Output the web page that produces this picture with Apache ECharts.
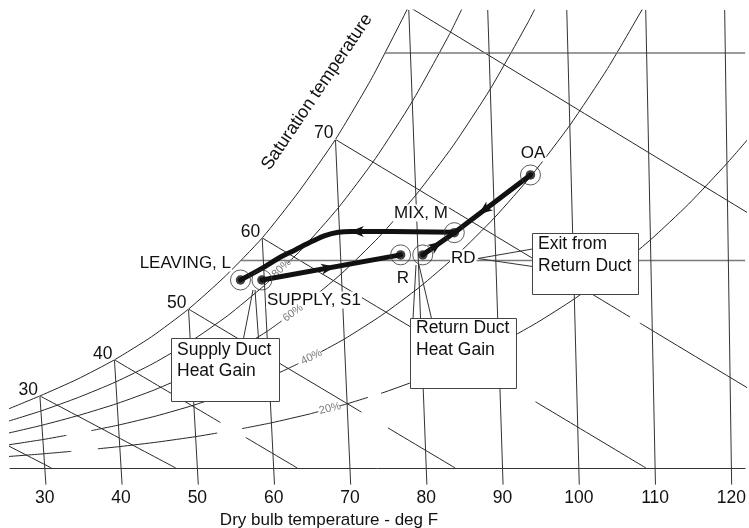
<!DOCTYPE html>
<html><head><meta charset="utf-8">
<script src="https://cdn.jsdelivr.net/npm/echarts@6/dist/echarts.min.js"></script>
<style>html,body{margin:0;padding:0;background:#fff}#c{width:749px;height:528px}</style>
</head><body><div id="c"></div>
<script>
// ---- Data (x = dry bulb position on the bottom scale, deg F; y = humidity ratio, lb/1000 lb) ----
const dryBulbTicks = [30, 40, 50, 60, 70, 80, 90, 100, 110, 120];
const dryBulbTopX  = [29.36, 39.13, 48.84, 58.50, 68.10, 77.71, 88.06, 98.42, 108.77, 119.12];
const dryBulbTopW  = [3.473, 5.213, 7.658, 11.087, 15.832, 22.07, 22.07, 22.07, 22.07, 22.07];

const saturationCurve = [[24.48,2.731],[29.36,3.473],[34.25,4.275],[39.13,5.213],[43.99,6.324],[48.84,7.658],
  [53.67,9.248],[58.50,11.087],[63.30,13.319],[68.10,15.832],[72.90,18.812],[77.69,22.234]];
const satLabelTemps = [30, 40, 50, 60, 70];

const rh80 = [[24.58,2.183],[29.50,2.748],[34.40,3.401],[39.30,4.148],[44.20,5.035],[49.08,6.089],[53.95,7.335],
  [58.81,8.801],[59.8,9.154],null,[61.8,9.867],[63.66,10.53],[68.50,12.550],[73.33,14.909],[78.17,17.665],[83.00,20.872],[84.94,22.32]];
const rh60 = [[24.69,1.636],[29.62,2.059],[34.55,2.547],[39.48,3.106],[44.40,3.769],[49.31,4.556],[54.21,5.485],
  [59.11,6.578],[61.03,7.082],null,[63.5,7.730],[64.00,7.861],[68.88,9.365],[73.76,11.115],[78.64,13.155],[83.51,15.524],
  [88.40,18.267],[93.29,21.44],[94.27,22.14]];
const rh40 = [[24.79,1.090],[29.75,1.371],[32.83,1.573],null,[36.09,1.800],[39.65,2.067],[44.60,2.507],[49.54,3.030],
  [54.48,3.646],[59.41,4.370],[63.25,5.032],null,[66.25,5.606],[69.26,6.212],[74.18,7.366],[79.10,8.709],[84.02,10.263],
  [88.94,12.060],[93.87,14.13],[98.82,16.515],[103.77,19.252],[108.75,22.38]];
const rh20 = [[24.90,0.544],[29.87,0.685],[33.48,0.802],null,[36.95,0.925],[39.83,1.032],[44.80,1.251],[49.77,1.511],
  [52.60,1.686],null,[55.85,1.898],[59.70,2.177],[64.67,2.599],[65.85,2.716],null,[68.68,2.997],[69.63,3.091],[72.37,3.406],
  null,[74.07,3.601],[74.59,3.661],[79.55,4.324],[84.51,5.090],[89.48,5.972],[94.44,6.987],[99.42,8.150],[104.40,9.479],
  [109.39,10.995],[114.39,12.719],[119.42,14.683],[122.44,15.96]];

const wetBulb20 = [[19.57,2.139],[30.87,0]];
const wetBulb30 = [[29.36,3.473],[47.17,0]];
const wetBulb40 = [[39.13,5.213],[53.04,2.188],null,[56.34,1.470],[63.1,0]];
const wetBulb50 = [[48.84,7.658],[71.50,2.694],null,[74.98,1.932],[83.8,0]];
const wetBulb60 = [[58.50,11.087],[91.50,3.813],null,[94.32,3.192],[108.8,0]];
const wetBulb70 = [[68.10,15.832],[106.70,7.277],null,[108.0,6.988],[139.53,0]];
const wetBulb80 = [[77.69,22.234],[177.14,0]];

const humidity10 = [[55.7,10],[121.8,10]];
const humidity20 = [[74.56,20],[121.8,20]];

const stateNames  = ['L', 'S1', 'R', 'RD', 'M', 'OA'];
const statePoints = [[55.65,9.06],[58.46,9.06],[76.64,10.27],[79.54,10.27],[83.68,11.34],[93.66,14.12]];

const coilPath   = [[83.68,11.36],[70.2,11.4],[68.46,11.36],[66.73,11.2],[64.98,10.91],[62.82,10.51],[60.64,10.11],[58.46,9.62],[55.65,9.06]];
const roomPath   = [[58.46,9.06],[76.64,10.27]];
const returnPath = [[79.54,10.27],[83.68,11.34]];
const outdoorPath= [[93.66,14.12],[83.68,11.34]];
// arrow position and the point it heads toward
const arrows = [[70.9,11.4,68.46,11.4],[67.16,9.64,76.64,10.27],[81.3,10.72,83.68,11.34],[87.59,12.43,83.68,11.34]];

// ---- Build ----
const INK = '#262626';
function segments(arr){ const out=[[]]; arr.forEach(p=>{ if(p===null) out.push([]); else out[out.length-1].push(p); }); return out.filter(s=>s.length>1); }
function thinSeries(arr, extra){
  return segments(arr).map(seg => Object.assign({type:'line', data:seg, symbol:'none', silent:true, z:2,
    lineStyle:{color:INK, width:1}}, extra||{}));
}
let series = [];
[saturationCurve, rh80, rh60, rh40, rh20, wetBulb20, wetBulb30, wetBulb40, wetBulb50, wetBulb60, wetBulb70, wetBulb80]
  .forEach(a => series = series.concat(thinSeries(a, {smooth:0.2})));
[humidity10, humidity20].forEach(a => series = series.concat(thinSeries(a, {lineStyle:{color:'#7a7a7a', width:1.6}})));
dryBulbTicks.forEach((t,i) => {
  const tx = dryBulbTopX[i], tw = dryBulbTopW[i];
  const ext = -0.8, bx = t + (t - tx) / tw * (-ext);
  series.push({type:'line', data:[[tx,tw],[t,0],[bx,ext]], symbol:'none', silent:true, clip:false, z:2,
    lineStyle:{color:'#333', width:1}});
});
const FONT = 'Liberation Sans, Arial, sans-serif';
const TXT = '#111';
// saturation labels
series.push({type:'scatter', symbolSize:1, itemStyle:{color:'#fff', opacity:1}, z:3, silent:true,
  data: satLabelTemps.map(t => { const i = dryBulbTicks.indexOf(t); return [dryBulbTopX[i], dryBulbTopW[i], t]; }),
  label:{show:true, position:'left', distance:1.5, offset:[0,-6], formatter:p=>String(p.value[2]),
    fontFamily:FONT, fontSize:17.5, color:TXT, opacity:1}});
// process lines
const heavy = {color:'#111', width:5, cap:'round', join:'round'};
series.push({type:'line', data:coilPath, smooth:0.35, symbol:'none', z:100, lineStyle:heavy, silent:true});
[roomPath, returnPath, outdoorPath].forEach(p => series.push({type:'line', data:p, symbol:'none', z:100, lineStyle:heavy, silent:true}));
series.push({type:'custom', z:101, silent:true, data:arrows, encode:{x:0, y:1},
  renderItem:(params, api) => {
    const p = api.coord([api.value(0), api.value(1)]), q = api.coord([api.value(2), api.value(3)]);
    const a = Math.atan2(q[1]-p[1], q[0]-p[0]), c = Math.cos(a), s = Math.sin(a);
    const pts = [[7,0],[-7,-5.5],[-3,0],[-7,5.5]].map(([x,y]) => [p[0]+x*c-y*s, p[1]+x*s+y*c]);
    return {type:'polygon', shape:{points:pts}, style:{fill:'#111'}};
  }});
series.push({type:'scatter', data:statePoints, symbol:'circle', symbolSize:20, z:102, silent:true,
  itemStyle:{color:'rgba(0,0,0,0)', borderColor:'#333', borderWidth:1}});
series.push({type:'scatter', data:statePoints, symbol:'circle', symbolSize:9.5, z:103, silent:true, itemStyle:{color:'#111'}});

function rtext(text, x, y, deg, font, fill){ return {type:'text', z:60, x, y, rotation:deg*Math.PI/180,
  style:{text, x:0, y:0, font, fill, align:'center', verticalAlign:'middle'}}; }
function label(text, x, y, align){ return {type:'text', z:60, style:{text, x, y, font:'17px '+FONT, fill:TXT, align:align||'left',
  verticalAlign:'middle', backgroundColor:'#fff', padding:[0,1]}}; }
function box(x, y, w, h, lines, ty){ return [
  {type:'rect', z:50, shape:{x, y, width:w, height:h}, style:{fill:'#fff', stroke:'#444', lineWidth:1}},
  ...lines.map((l,i) => ({type:'text', z:51, style:{text:l, x:x+5.5, y:ty[i], font:'17.5px '+FONT, fill:TXT, align:'left', verticalAlign:'middle'}}))]; }
function seg(x1,y1,x2,y2){ return {type:'line', z:49, shape:{x1,y1,x2,y2}, style:{stroke:'#333', lineWidth:1}}; }

const graphics = [
  ...box(171.5, 338.5, 108, 63, ['Supply Duct','Heat Gain'], [350, 371]),
  ...box(410.5, 318.5, 106, 70, ['Return Duct','Heat Gain'], [328, 350]),
  ...box(532.5, 233.5, 106, 61, ['Exit from','Return Duct'], [244, 266]),
  seg(253,290,243.5,338.5), seg(255,290,258.5,338.5),
  seg(416,265,413,318.5), seg(419,265,431.5,318.5),
  seg(478,258.5,532.5,249), seg(478,258.5,532.5,266.5),
  label('LEAVING, L', 232, 263, 'right'),
  label('SUPPLY, S1', 266, 300),
  label('MIX, M', 393, 213),
  label('R', 403, 278, 'center'),
  label('RD', 450, 258),
  label('OA', 533, 153, 'center'),
  rtext('Saturation temperature', 317, 92, 56, '18px '+FONT, TXT),
  rtext('80%', 281.5, 268.5, 44, '11px '+FONT, '#7a7a7a'),
  rtext('60%', 293, 313, 36, '11px '+FONT, '#7a7a7a'),
  rtext('40%', 311.5, 357, 27, '11px '+FONT, '#7a7a7a'),
  rtext('20%', 330, 408.5, 14, '11px '+FONT, '#7a7a7a'),
  {type:'text', z:60, style:{text:'Dry bulb temperature - deg F', x:329, y:520, font:'17px '+FONT, fill:TXT, align:'center', verticalAlign:'middle'}}
];

const chart = echarts.init(document.getElementById('c'), null, {renderer:'canvas'});
chart.setOption({
  animation:false,
  backgroundColor:'#fff',
  grid:{left:10, right:0, top:10, bottom:60},
  xAxis:{type:'value', min:25.44, max:121.8, splitLine:{show:false}, axisTick:{show:false},
    axisLine:{show:true, lineStyle:{color:'#333', width:1}},
    axisLabel:{customValues:dryBulbTicks, margin:21, fontSize:17.5, color:TXT, fontFamily:FONT}},
  yAxis:{type:'value', min:0, max:22.07, show:false},
  series,
  graphic: graphics
});
</script></body></html>
